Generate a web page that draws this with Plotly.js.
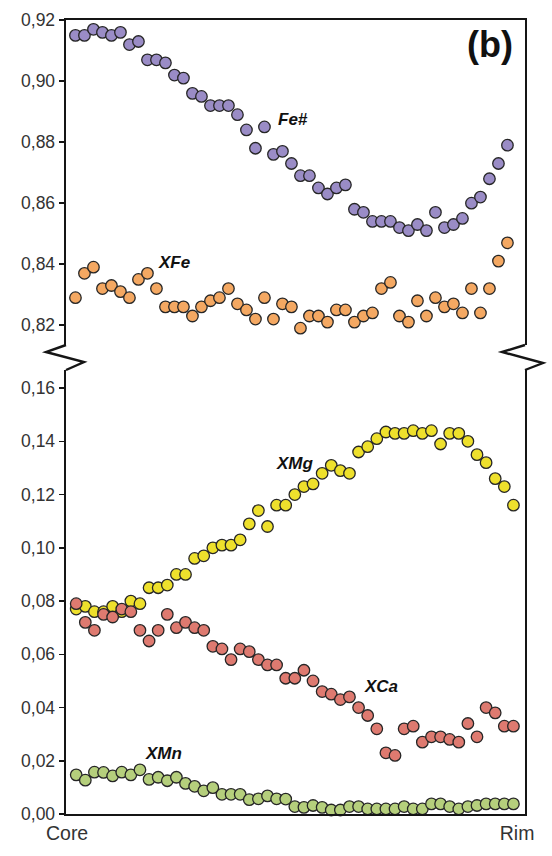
<!DOCTYPE html>
<html>
<head>
<meta charset="utf-8">
<script src="https://cdn.plot.ly/plotly-3.0.1.min.js"></script>
<style>html,body{margin:0;padding:0;background:#fff;}#chart{width:552px;height:856px;}</style>
</head>
<body>
<div id="chart"></div>
<script>
// Analysis points along the profile (core -> rim)
const pointNo = [1,2,3,4,5,6,7,8,9,10,11,12,13,14,15,16,17,18,19,20,21,22,23,24,25,26,27,28,29,30,31,32,33,34,35,36,37,38,39,40,41,42,43,44,45,46,47,48,49];

const feNum = [0.915,0.915,0.917,0.916,0.915,0.916,0.912,0.913,0.907,0.907,0.906,0.902,0.901,0.896,0.895,0.892,0.892,0.892,0.889,0.884,0.878,0.885,0.876,0.877,0.873,0.869,0.869,0.865,0.863,0.865,0.866,0.858,0.857,0.854,0.854,0.854,0.852,0.851,0.853,0.851,0.857,0.852,0.853,0.855,0.860,0.862,0.868,0.873,0.879];
const xFe = [0.829,0.837,0.839,0.832,0.833,0.831,0.829,0.835,0.837,0.832,0.826,0.826,0.826,0.823,0.826,0.828,0.829,0.832,0.827,0.825,0.822,0.829,0.822,0.827,0.826,0.819,0.823,0.823,0.821,0.825,0.825,0.821,0.823,0.824,0.832,0.834,0.823,0.821,0.828,0.823,0.829,0.826,0.827,0.824,0.832,0.824,0.832,0.841,0.847];
const xMg = [0.077,0.078,0.076,0.076,0.078,0.076,0.080,0.079,0.085,0.085,0.086,0.090,0.090,0.096,0.097,0.100,0.101,0.101,0.103,0.109,0.114,0.108,0.116,0.116,0.120,0.123,0.124,0.128,0.131,0.129,0.128,0.136,0.138,0.141,0.1435,0.143,0.143,0.144,0.143,0.144,0.139,0.143,0.143,0.140,0.135,0.132,0.126,0.123,0.116];
const xCa = [0.079,0.072,0.069,0.075,0.074,0.077,0.076,0.069,0.065,0.069,0.075,0.070,0.072,0.070,0.069,0.063,0.062,0.058,0.062,0.061,0.058,0.056,0.056,0.051,0.051,0.054,0.050,0.046,0.045,0.043,0.044,0.040,0.037,0.032,0.023,0.022,0.032,0.033,0.027,0.029,0.029,0.028,0.027,0.034,0.029,0.040,0.038,0.033,0.033];
const xMn = [0.0147,0.0127,0.0157,0.0156,0.0143,0.0157,0.0147,0.0166,0.0130,0.0138,0.0125,0.0138,0.0115,0.0104,0.0087,0.0099,0.0074,0.0074,0.0074,0.0054,0.0057,0.0068,0.0057,0.0056,0.0028,0.0025,0.0032,0.0025,0.0015,0.0015,0.0028,0.0028,0.0019,0.0019,0.0019,0.0019,0.0028,0.0019,0.0019,0.0038,0.0038,0.0028,0.0019,0.0028,0.0032,0.0038,0.0038,0.0038,0.0038];

const seriesNames = ['Fe#','XFe','XMg','XCa','XMn'];
const yTicksTop = [0.82,0.84,0.86,0.88,0.90,0.92];
const yTicksBottom = [0,0.02,0.04,0.06,0.08,0.10,0.12,0.14,0.16];
const xTickVals = [0.0, 49.4];
const xTickLabels = ['Core','Rim'];

const FONT = 'Liberation Sans, Arial, Helvetica, sans-serif';
const W = 552, H = 856, L = 66, R = 525, T = 20, B = 814;
const px = x => (x - L) / (R - L);
const py = y => (B - y) / (B - T);

const colors = {
  'Fe#': '#9a8cc6',
  'XFe': '#f4a862',
  'XMg': '#eee02c',
  'XCa': '#de7a70',
  'XMn': '#b5cf7c'
};
function mk(name){
  return {size: 11.5, color: colors[name], line: {color: '#262626', width: 1.3}};
}
const traces = [
  {x: pointNo, y: feNum, name: 'Fe#', type: 'scatter', mode: 'markers', marker: mk('Fe#'), xaxis: 'x', yaxis: 'y', cliponaxis: false},
  {x: pointNo, y: xFe, name: 'XFe', type: 'scatter', mode: 'markers', marker: mk('XFe'), xaxis: 'x', yaxis: 'y', cliponaxis: false},
  {x: pointNo, y: xMg, name: 'XMg', type: 'scatter', mode: 'markers', marker: mk('XMg'), xaxis: 'x2', yaxis: 'y2', cliponaxis: false},
  {x: pointNo, y: xCa, name: 'XCa', type: 'scatter', mode: 'markers', marker: mk('XCa'), xaxis: 'x2', yaxis: 'y2', cliponaxis: false},
  {x: pointNo, y: xMn, name: 'XMn', type: 'scatter', mode: 'markers', marker: mk('XMn'), xaxis: 'x2', yaxis: 'y2', cliponaxis: false}
];

const lineC = '#151515', lineW = 2.4;
const tickFont = {family: FONT, size: 17.5, color: '#333'};
const upperBottomPx = 345, lowerTopPx = 370;
const labelFont = {family: FONT, size: 17, color: '#111'};

const layout = {
  width: W, height: H,
  margin: {l: L, r: W - R, t: T, b: H - B, pad: 0},
  paper_bgcolor: '#fff', plot_bgcolor: '#fff',
  showlegend: false,
  separators: ',.',
  hovermode: false,
  xaxis: {domain: [0,1], range: [-0.05, 50.95], anchor: 'y', side: 'top',
    showline: true, linecolor: lineC, linewidth: lineW, mirror: false,
    showgrid: false, zeroline: false, showticklabels: false, ticks: ''},
  yaxis: {domain: [py(upperBottomPx), 1], range: [0.8135, 0.92005], anchor: 'x',
    showline: true, linecolor: lineC, linewidth: lineW, mirror: true,
    showgrid: false, zeroline: false, tickmode: 'array', tickvals: yTicksTop,
    tickformat: '.2f', ticks: 'outside', ticklen: 5, tickwidth: 1.5, tickcolor: lineC,
    tickfont: tickFont},
  xaxis2: {domain: [0,1], range: [-0.12, 50.27], anchor: 'y2', side: 'bottom',
    showline: true, linecolor: lineC, linewidth: lineW, mirror: false,
    showgrid: false, zeroline: false, tickmode: 'array', tickvals: xTickVals, ticktext: xTickLabels,
    ticks: '', ticklen: 0, tickfont: {family: FONT, size: 19.5, color: '#333'}},
  yaxis2: {domain: [0, py(lowerTopPx)], range: [0, 0.1668], anchor: 'x2',
    showline: true, linecolor: lineC, linewidth: lineW, mirror: true,
    showgrid: false, zeroline: false, tickmode: 'array', tickvals: yTicksBottom,
    tickformat: '.2f', ticks: 'outside', ticklen: 5, tickwidth: 1.5, tickcolor: lineC,
    tickfont: tickFont},
  shapes: [
    {type: 'path', xref: 'paper', yref: 'paper', layer: 'above',
     path: `M ${px(L)},${py(upperBottomPx)} L ${px(L-20)},${py(352)} L ${px(L+18)},${py(362)} L ${px(L)},${py(lowerTopPx)}`,
     line: {color: lineC, width: lineW}},
    {type: 'path', xref: 'paper', yref: 'paper', layer: 'above',
     path: `M ${px(R)},${py(upperBottomPx)} L ${px(R-23)},${py(352)} L ${px(R+18)},${py(363)} L ${px(R)},${py(lowerTopPx)}`,
     line: {color: lineC, width: lineW}}
  ],
  annotations: [
    {text: '<b><i>Fe#</i></b>', xref: 'x', yref: 'y', x: 23.3, y: 0.8874, xanchor: 'left', yanchor: 'middle', showarrow: false, font: labelFont},
    {text: '<b><i>XFe</i></b>', xref: 'x', yref: 'y', x: 9.9, y: 0.8405, xanchor: 'left', yanchor: 'middle', showarrow: false, font: labelFont},
    {text: '<b><i>XMg</i></b>', xref: 'x2', yref: 'y2', x: 22.7, y: 0.1316, xanchor: 'left', yanchor: 'middle', showarrow: false, font: labelFont},
    {text: '<b><i>XCa</i></b>', xref: 'x2', yref: 'y2', x: 32.4, y: 0.0479, xanchor: 'left', yanchor: 'middle', showarrow: false, font: labelFont},
    {text: '<b><i>XMn</i></b>', xref: 'x2', yref: 'y2', x: 8.3, y: 0.0229, xanchor: 'left', yanchor: 'middle', showarrow: false, font: labelFont},
    {text: '<b>(b)</b>', xref: 'paper', yref: 'paper', x: px(490), y: py(45), xanchor: 'center', yanchor: 'middle', showarrow: false, font: {family: FONT, size: 36, color: '#111'}}
  ]
};

Plotly.newPlot('chart', traces, layout, {displayModeBar: false, staticPlot: true});
</script>
</body>
</html>
